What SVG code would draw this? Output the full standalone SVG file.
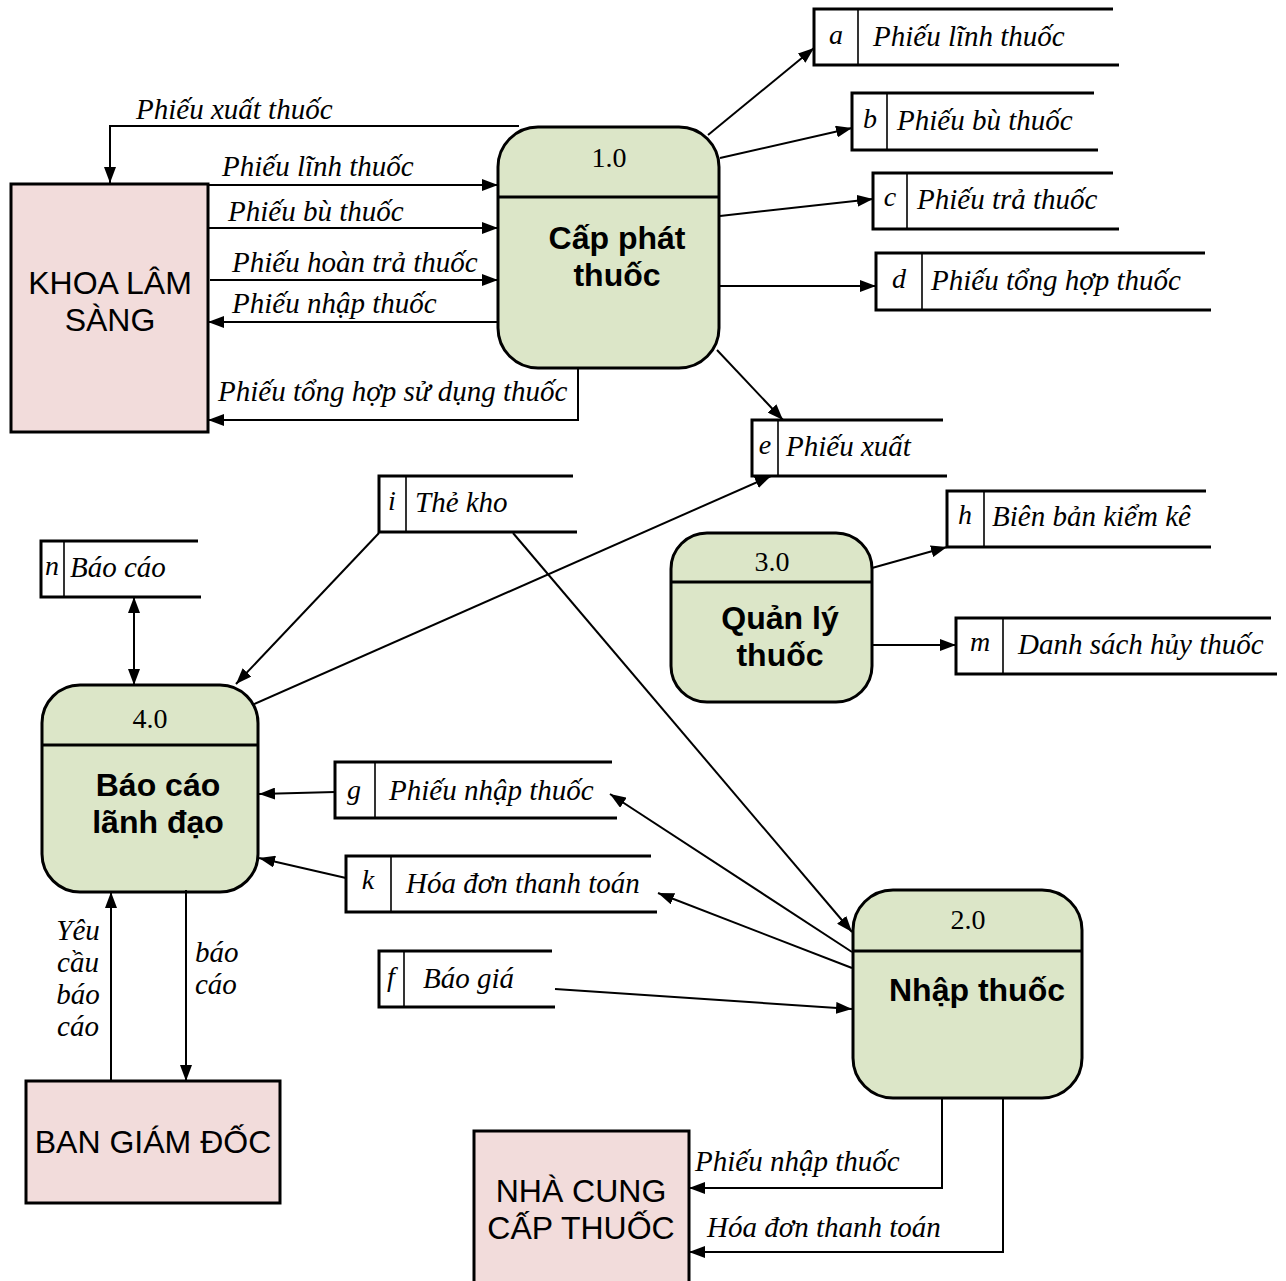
<svg xmlns="http://www.w3.org/2000/svg" width="1286" height="1281" viewBox="0 0 1286 1281">
  <defs>
    <style>
      .ent rect { fill: #f2dcdb; stroke: #000; stroke-width: 3; }
      .proc rect { fill: #dce6c8; stroke: #000; stroke-width: 3; }
      .proc line { stroke: #000; stroke-width: 3; }
      .store path { fill: none; stroke: #000; stroke-width: 3; }
      .store line { stroke: #000; stroke-width: 1.6; }
      .conn path { fill: none; stroke: #000; stroke-width: 2; }
      text { fill: #000; }
      .etxt { font-family: "Liberation Sans", Arial, sans-serif; font-size: 32px; text-anchor: middle; }
      .ptit { font-family: "Liberation Sans", Arial, sans-serif; font-size: 32px; font-weight: bold; text-anchor: middle; }
      .pnum { font-family: "Liberation Serif", "Times New Roman", serif; font-size: 28px; text-anchor: middle; }
      .lbl { font-family: "Liberation Serif", "Times New Roman", serif; font-style: italic; font-size: 29px; }
      .sid { font-family: "Liberation Serif", "Times New Roman", serif; font-style: italic; font-size: 28px; text-anchor: middle; }
      .mid { text-anchor: middle; }
    </style>
    <marker id="arr" viewBox="0 0 16 12" refX="16" refY="6" markerWidth="16" markerHeight="12" orient="auto-start-reverse" markerUnits="userSpaceOnUse">
      <path d="M0,0 L16,6 L0,12 z" fill="#000"/>
    </marker>
  </defs>

  <!-- External entities -->
  <g id="khoa-lam-sang" class="ent">
    <rect x="11" y="184" width="197" height="248"/>
    <text class="etxt" x="110" y="294">KHOA LÂM</text>
    <text class="etxt" x="110" y="331">SÀNG</text>
  </g>
  <g id="ban-giam-doc" class="ent">
    <rect x="26" y="1081" width="254" height="122"/>
    <text class="etxt" x="153" y="1153">BAN GIÁM ĐỐC</text>
  </g>
  <g id="nha-cung-cap" class="ent">
    <rect x="474" y="1131" width="215" height="160"/>
    <text class="etxt" x="581" y="1202">NHÀ CUNG</text>
    <text class="etxt" x="581" y="1239">CẤP THUỐC</text>
  </g>

  <!-- Processes -->
  <g id="p1" class="proc">
    <rect x="498" y="127" width="221" height="241" rx="40" ry="40"/>
    <line x1="498" y1="197" x2="719" y2="197"/>
    <text class="pnum" x="609" y="167">1.0</text>
    <text class="ptit" x="617" y="249">Cấp phát</text>
    <text class="ptit" x="617" y="286">thuốc</text>
  </g>
  <g id="p2" class="proc">
    <rect x="853" y="890" width="229" height="208" rx="40" ry="40"/>
    <line x1="853" y1="951" x2="1082" y2="951"/>
    <text class="pnum" x="968" y="929">2.0</text>
    <text class="ptit" x="977" y="1001">Nhập thuốc</text>
  </g>
  <g id="p3" class="proc">
    <rect x="671" y="533" width="201" height="169" rx="36" ry="36"/>
    <line x1="671" y1="582" x2="872" y2="582"/>
    <text class="pnum" x="772" y="571">3.0</text>
    <text class="ptit" x="780" y="629">Quản lý</text>
    <text class="ptit" x="780" y="666">thuốc</text>
  </g>
  <g id="p4" class="proc">
    <rect x="42" y="685" width="216" height="207" rx="38" ry="38"/>
    <line x1="42" y1="745" x2="258" y2="745"/>
    <text class="pnum" x="150" y="728">4.0</text>
    <text class="ptit" x="158" y="796">Báo cáo</text>
    <text class="ptit" x="158" y="833">lãnh đạo</text>
  </g>

  <!-- Data stores -->
  <g id="store-a" class="store">
    <path d="M1113,9 H814 V65 H1119"/>
    <line x1="858" y1="9" x2="858" y2="65"/>
    <text class="sid" x="836" y="44">a</text>
    <text class="lbl" x="873" y="46">Phiếu lĩnh thuốc</text>
  </g>
  <g id="store-b" class="store">
    <path d="M1094,93 H852 V150 H1098"/>
    <line x1="887" y1="93" x2="887" y2="150"/>
    <text class="sid" x="870" y="128">b</text>
    <text class="lbl" x="897" y="130">Phiếu bù thuốc</text>
  </g>
  <g id="store-c" class="store">
    <path d="M1113,173 H873 V229 H1119"/>
    <line x1="907" y1="173" x2="907" y2="229"/>
    <text class="sid" x="890" y="206">c</text>
    <text class="lbl" x="917" y="209">Phiếu trả thuốc</text>
  </g>
  <g id="store-d" class="store">
    <path d="M1205,253 H876 V310 H1211"/>
    <line x1="922" y1="253" x2="922" y2="310"/>
    <text class="sid" x="899" y="288">d</text>
    <text class="lbl" x="931" y="290">Phiếu tổng hợp thuốc</text>
  </g>
  <g id="store-e" class="store">
    <path d="M943,420 H752 V476 H947"/>
    <line x1="778" y1="420" x2="778" y2="476"/>
    <text class="sid" x="765" y="454">e</text>
    <text class="lbl" x="786" y="456">Phiếu xuất</text>
  </g>
  <g id="store-h" class="store">
    <path d="M1206,491 H947 V547 H1211"/>
    <line x1="984" y1="491" x2="984" y2="547"/>
    <text class="sid" x="965" y="524">h</text>
    <text class="lbl" x="992" y="526">Biên bản kiểm kê</text>
  </g>
  <g id="store-m" class="store">
    <path d="M1271,618 H956 V674 H1277"/>
    <line x1="1003" y1="618" x2="1003" y2="674"/>
    <text class="sid" x="980" y="651">m</text>
    <text class="lbl" x="1018" y="654">Danh sách hủy thuốc</text>
  </g>
  <g id="store-i" class="store">
    <path d="M573,476 H379 V532 H577"/>
    <line x1="406" y1="476" x2="406" y2="532"/>
    <text class="sid" x="392" y="510">i</text>
    <text class="lbl" x="415" y="512">Thẻ kho</text>
  </g>
  <g id="store-n" class="store">
    <path d="M198,541 H41 V597 H201"/>
    <line x1="64" y1="541" x2="64" y2="597"/>
    <text class="sid" x="52" y="575">n</text>
    <text class="lbl" x="70" y="577">Báo cáo</text>
  </g>
  <g id="store-g" class="store">
    <path d="M612,762 H335 V818 H617"/>
    <line x1="375" y1="762" x2="375" y2="818"/>
    <text class="sid" x="354" y="799">g</text>
    <text class="lbl" x="389" y="800">Phiếu nhập thuốc</text>
  </g>
  <g id="store-k" class="store">
    <path d="M651,856 H346 V912 H657"/>
    <line x1="391" y1="856" x2="391" y2="912"/>
    <text class="sid" x="368" y="889">k</text>
    <text class="lbl" x="406" y="893">Hóa đơn thanh toán</text>
  </g>
  <g id="store-f" class="store">
    <path d="M552,951 H379 V1007 H555"/>
    <line x1="404" y1="951" x2="404" y2="1007"/>
    <text class="sid" x="391" y="986">f</text>
    <text class="lbl" x="423" y="988">Báo giá</text>
  </g>

  <!-- Data flows -->
  <g id="connectors" class="conn">
    <path d="M519,126 H110 V183" marker-end="url(#arr)"/>
    <path d="M208,185 H498" marker-end="url(#arr)"/>
    <path d="M208,228 H498" marker-end="url(#arr)"/>
    <path d="M210,280 H498" marker-end="url(#arr)"/>
    <path d="M498,322 H208" marker-end="url(#arr)"/>
    <path d="M578,369 V420 H208" marker-end="url(#arr)"/>

    <path d="M708,135 L814,48" marker-end="url(#arr)"/>
    <path d="M720,158 L852,128" marker-end="url(#arr)"/>
    <path d="M720,216 L873,199" marker-end="url(#arr)"/>
    <path d="M719,286 H876" marker-end="url(#arr)"/>
    <path d="M717,350 L783,420" marker-end="url(#arr)"/>

    <path d="M872,568 L947,547" marker-end="url(#arr)"/>
    <path d="M872,645 H956" marker-end="url(#arr)"/>

    <path d="M134,597 V685" marker-start="url(#arr)" marker-end="url(#arr)"/>
    <path d="M379,533 L236,684" marker-end="url(#arr)"/>
    <path d="M252,705 L771,476" marker-end="url(#arr)"/>
    <path d="M513,533 L852,932" marker-end="url(#arr)"/>
    <path d="M335,792 L259,794" marker-end="url(#arr)"/>
    <path d="M346,878 L259,858" marker-end="url(#arr)"/>
    <path d="M852,952 L610,794" marker-end="url(#arr)"/>
    <path d="M852,968 L658,893" marker-end="url(#arr)"/>
    <path d="M555,989 L852,1009" marker-end="url(#arr)"/>

    <path d="M111,1081 V892" marker-end="url(#arr)"/>
    <path d="M186,890 V1081" marker-end="url(#arr)"/>

    <path d="M942,1098 V1188 H689" marker-end="url(#arr)"/>
    <path d="M1003,1098 V1252 H689" marker-end="url(#arr)"/>
  </g>

  <!-- Flow labels -->
  <g id="flow-labels">
    <text class="lbl" x="136" y="119">Phiếu xuất thuốc</text>
    <text class="lbl" x="222" y="176">Phiếu lĩnh thuốc</text>
    <text class="lbl" x="228" y="221">Phiếu bù thuốc</text>
    <text class="lbl" x="232" y="272">Phiếu hoàn trả thuốc</text>
    <text class="lbl" x="232" y="313">Phiếu nhập thuốc</text>
    <text class="lbl" x="218" y="401">Phiếu tổng hợp sử dụng thuốc</text>
    <text class="lbl mid" x="78" y="940">Yêu</text>
    <text class="lbl mid" x="78" y="972">cầu</text>
    <text class="lbl mid" x="78" y="1004">báo</text>
    <text class="lbl mid" x="78" y="1036">cáo</text>
    <text class="lbl" x="195" y="962">báo</text>
    <text class="lbl" x="195" y="994">cáo</text>
    <text class="lbl" x="695" y="1171">Phiếu nhập thuốc</text>
    <text class="lbl" x="707" y="1237">Hóa đơn thanh toán</text>
  </g>
</svg>
